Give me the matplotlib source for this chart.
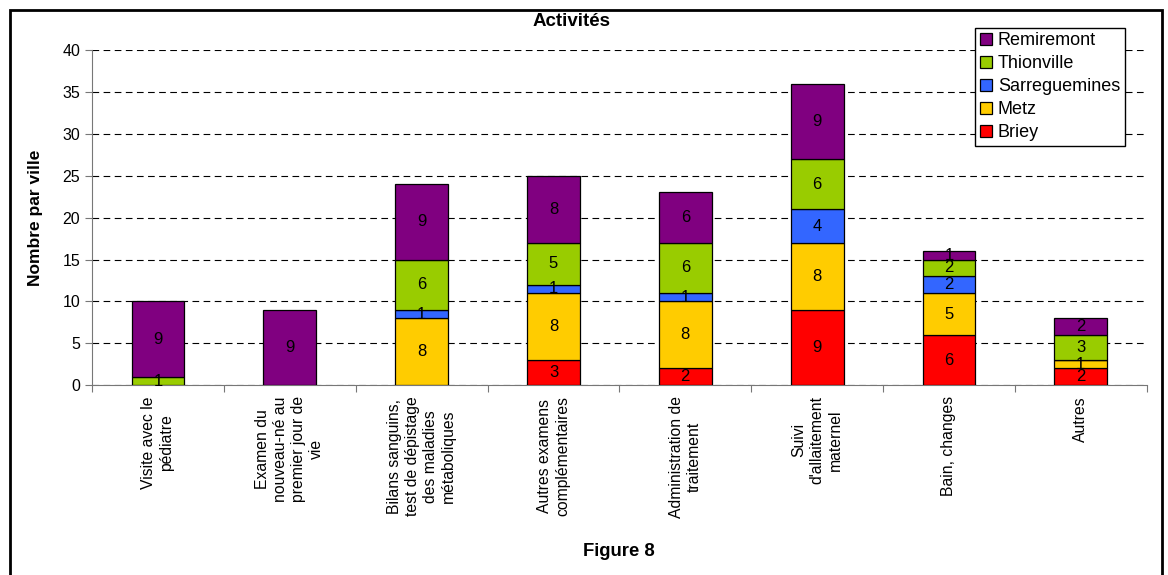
import numpy as np
import matplotlib.pyplot as plt
from matplotlib import patches

plt.rcParams['font.family'] = ['Liberation Sans', 'DejaVu Sans']

categories = ["Visite avec le\npédiatre",
              "Examen du\nnouveau-né au\npremier jour de\nvie",
              "Bilans sanguins,\ntest de dépistage\ndes maladies\nmétaboliques",
              "Autres examens\ncomplémentaires",
              "Administration de\ntraitement",
              "Suivi\nd'allaitement\nmaternel",
              "Bain, changes",
              "Autres"]
briey = [0, 0, 0, 3, 2, 9, 6, 2]
metz = [0, 0, 8, 8, 8, 8, 5, 1]
sarreguemines = [0, 0, 1, 1, 1, 4, 2, 0]
thionville = [1, 0, 6, 5, 6, 6, 2, 3]
remiremont = [9, 9, 9, 8, 6, 9, 1, 2]

series = [("Briey", briey, "#FF0000"),
          ("Metz", metz, "#FFCC00"),
          ("Sarreguemines", sarreguemines, "#3366FF"),
          ("Thionville", thionville, "#99CC00"),
          ("Remiremont", remiremont, "#800080")]

fig = plt.figure(figsize=(11.68, 5.75), dpi=100)
ax = fig.add_axes([0.0788, 0.330, 0.903, 0.583])

x = np.arange(len(categories))
bottom = np.zeros(len(categories))
for name, vals, col in series:
    vals = np.array(vals, dtype=float)
    bars = ax.bar(x, vals, 0.4, bottom=bottom, color=col, edgecolor='black',
                  linewidth=0.9, label=name, zorder=3)
    ax.bar_label(bars, labels=[str(int(v)) if v > 0 else '' for v in vals],
                 label_type='center', fontsize=12, zorder=4)
    bottom += vals

ax.set_xlim(-0.5, len(categories) - 0.5)
ax.set_ylim(0, 40)
ax.set_yticks(range(0, 41, 5))
ax.yaxis.grid(True, linestyle=(0, (6, 4)), color='black', linewidth=0.8)
ax.set_axisbelow(True)

ax.set_xticks(np.arange(len(categories) + 1) - 0.5)
ax.set_xticklabels([])
ax.set_xticks(x, minor=True)
ax.set_xticklabels(categories, minor=True, rotation=90, ha='center', va='top',
                   multialignment='center', fontsize=11.3, linespacing=1.25)
ax.tick_params(axis='x', which='minor', length=0, pad=8)
ax.tick_params(axis='x', which='major', length=5, color='#777777')
ax.tick_params(axis='y', labelsize=11.5, length=5, color='#777777')

for s in ['top', 'right']:
    ax.spines[s].set_visible(False)
for s in ['left', 'bottom']:
    ax.spines[s].set_color('#777777')

ax.set_ylabel("Nombre par ville", fontsize=12.5, fontweight='bold', labelpad=14)

handles, labels = ax.get_legend_handles_labels()
leg = ax.legend(handles[::-1], labels[::-1], loc='upper right',
                bbox_to_anchor=(0.979, 1.066), fontsize=13, fancybox=False,
                edgecolor='black', framealpha=1, handlelength=0.7,
                handleheight=0.7, handletextpad=0.3, borderpad=0.25,
                labelspacing=0.33, borderaxespad=0)
leg.get_frame().set_linewidth(1)

fig.text(572 / 1168, 1 - 22 / 575, "Activités", ha='center', va='center',
         fontsize=13.5, fontweight='bold')
fig.text(619 / 1168, 1 - 551 / 575, "Figure 8", ha='center', va='center',
         fontsize=13.3, fontweight='bold')

fig.patches.append(patches.Rectangle((10 / 1168, -0.05), 1152 / 1168, 1.05 - 10 / 575,
                                     fill=False, edgecolor='black', linewidth=2,
                                     transform=fig.transFigure, figure=fig))

fig.savefig("out.png", dpi=100)
